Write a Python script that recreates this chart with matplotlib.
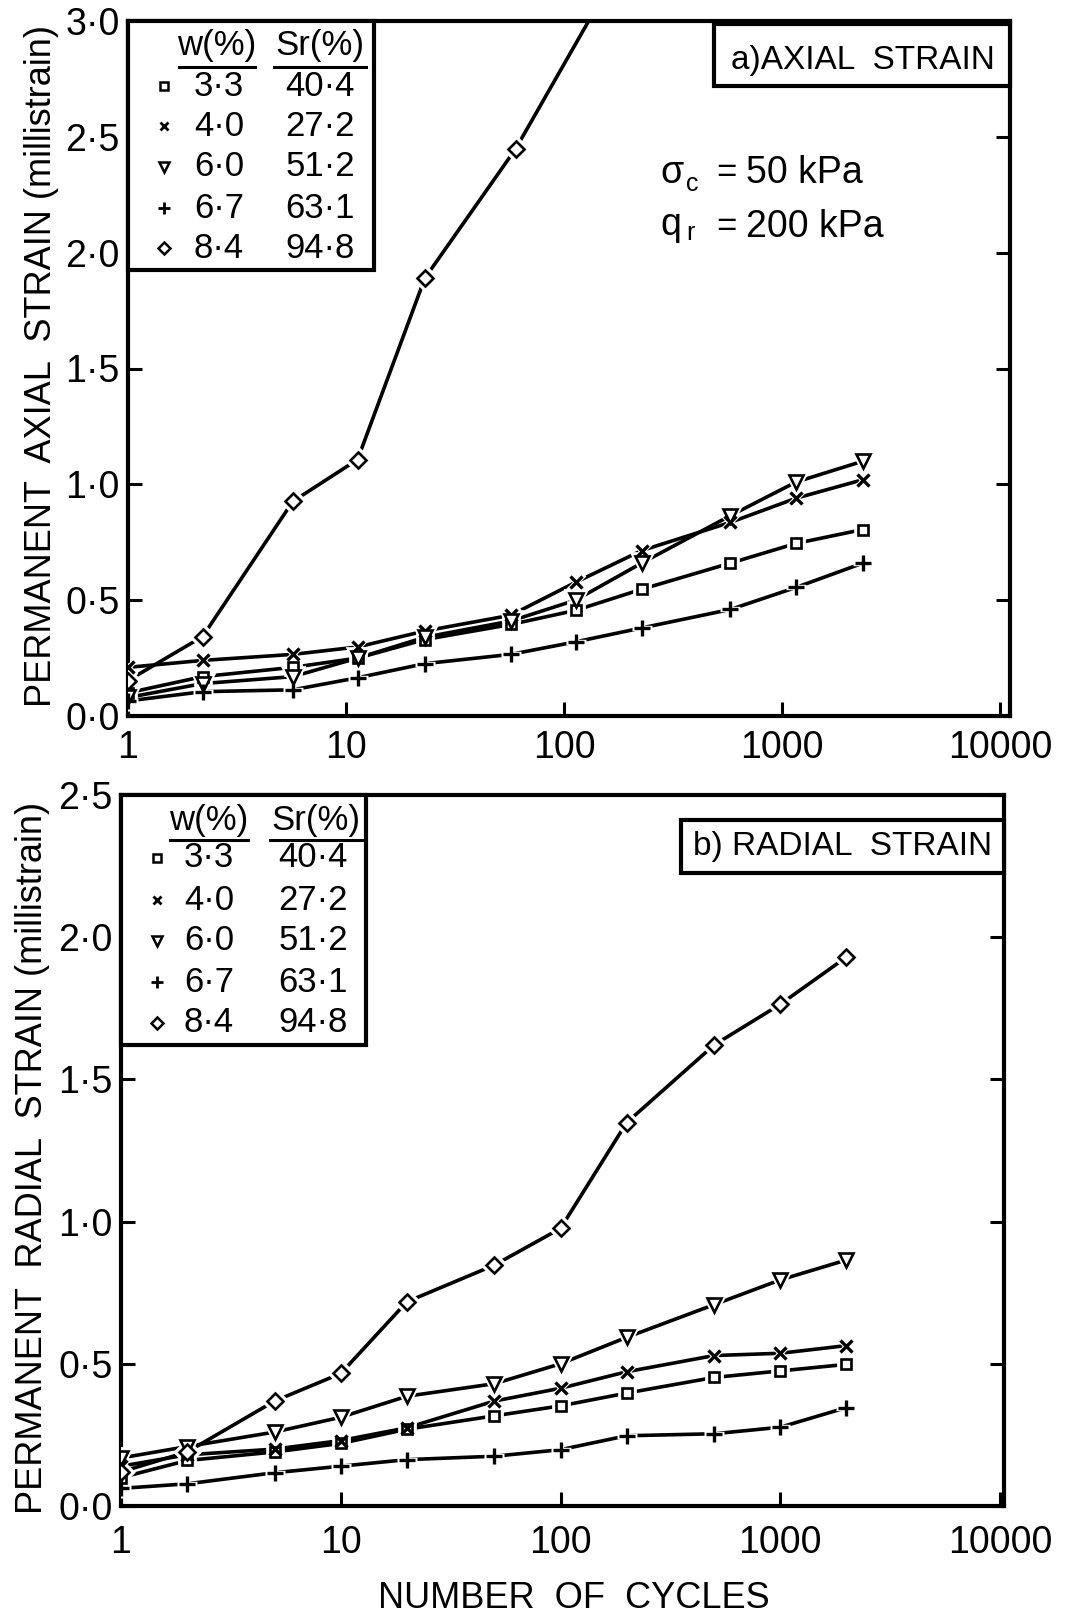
import matplotlib
matplotlib.use("Agg")
import matplotlib.pyplot as plt
from matplotlib import font_manager
from matplotlib.lines import Line2D
from matplotlib.patches import Rectangle
from matplotlib.ticker import FixedLocator, FixedFormatter, NullLocator


def pick_font(candidates):
    names = {f.name for f in font_manager.fontManager.ttflist}
    for c in candidates:
        if c in names:
            return c
    return "DejaVu Sans"


FONT = pick_font(["Liberation Sans Narrow", "DejaVu Sans Condensed", "Liberation Sans"])
plt.rcParams["font.family"] = [FONT, "DejaVu Sans"]

# ---------------- data ----------------
# (a) permanent axial strain (millistrain)
cycles_a = [1, 2.2, 5.7, 11.3, 23, 57, 113, 227, 580, 1160, 2350]
axial_w33 = [0.10, 0.17, 0.21, 0.25, 0.33, 0.395, 0.456, 0.547, 0.66, 0.745, 0.805]
axial_w40 = [0.21, 0.24, 0.266, 0.298, 0.367, 0.435, 0.577, 0.714, 0.836, 0.94, 1.02]
axial_w60 = [0.08, 0.14, 0.17, 0.25, 0.34, 0.41, 0.50, 0.66, 0.865, 1.01, 1.10]
axial_w67 = [0.065, 0.105, 0.113, 0.165, 0.226, 0.266, 0.32, 0.38, 0.46, 0.555, 0.66]
cycles_a_w84 = [1, 2.2, 5.7, 11.3, 23, 60, 227]
axial_w84 = [0.153, 0.343, 0.926, 1.107, 1.89, 2.448, 3.40]

# (b) permanent radial strain (millistrain)
cycles_b = [1, 2, 5, 10, 20, 50, 100, 200, 500, 1000, 2000]
radial_w33 = [0.10, 0.16, 0.19, 0.22, 0.27, 0.317, 0.352, 0.397, 0.452, 0.475, 0.498]
radial_w40 = [0.14, 0.18, 0.20, 0.23, 0.275, 0.369, 0.414, 0.472, 0.529, 0.537, 0.564]
radial_w60 = [0.169, 0.209, 0.26, 0.312, 0.386, 0.43, 0.50, 0.593, 0.708, 0.795, 0.865]
radial_w67 = [0.062, 0.078, 0.117, 0.14, 0.163, 0.175, 0.198, 0.247, 0.254, 0.277, 0.346]
radial_w84 = [0.12, 0.19, 0.369, 0.466, 0.718, 0.847, 0.976, 1.348, 1.621, 1.764, 1.93]

# legend table
legend_w = ["3·3", "4·0", "6·0", "6·7", "8·4"]
legend_sr = ["40·4", "27·2", "51·2", "63·1", "94·8"]

x_ticks = [1, 10, 100, 1000, 10000]
x_tick_labels = ["1", "10", "100", "1000", "10000"]
y_ticks_a = [0.0, 0.5, 1.0, 1.5, 2.0, 2.5, 3.0]
y_labels_a = ["0·0", "0·5", "1·0", "1·5", "2·0", "2·5", "3·0"]
y_ticks_b = [0.0, 0.5, 1.0, 1.5, 2.0, 2.5]
y_labels_b = ["0·0", "0·5", "1·0", "1·5", "2·0", "2·5"]

# ---------------- styles ----------------
STYLES = [
    dict(marker="s", ms=7.0, mew=1.9),
    dict(marker="x", ms=9.0, mew=2.4),
    dict(marker="v", ms=9.5, mew=1.9),
    dict(marker="+", ms=12.0, mew=2.4),
    dict(marker="D", ms=8.0, mew=1.9),
]
LEG_STYLES = [
    dict(marker="s", ms=5.5, mew=1.8),
    dict(marker="x", ms=6.0, mew=2.0),
    dict(marker="v", ms=7.0, mew=1.8),
    dict(marker="+", ms=9.0, mew=2.0),
    dict(marker="D", ms=6.5, mew=1.8),
]

W, H = 1068, 1618


def fx(px):
    return px / W


def fy(py):
    return 1 - py / H


fig = plt.figure(figsize=(W / 100, H / 100), dpi=100)
fig.patch.set_facecolor("white")

ax_a = fig.add_axes([fx(128), fy(716), (1010 - 128) / W, (716 - 21) / H])
ax_b = fig.add_axes([fx(121), fy(1506), (1004 - 121) / W, (1506 - 795) / H])


def draw_series(ax, x, y, style):
    ax.plot(x, y, color="black", lw=2.6, solid_capstyle="butt", zorder=2)
    ax.plot(x, y, ls="none", marker=style["marker"], ms=style["ms"] + 3,
            mfc="white", mec="white", mew=style["mew"] + 1.5, zorder=3)
    ax.plot(x, y, ls="none", marker=style["marker"], ms=style["ms"],
            mfc="white", mec="black", mew=style["mew"], zorder=4)


def style_axes(ax, ymax, yticks, ylabels, xmax, xpad):
    ax.set_xscale("log")
    ax.set_xlim(1, xmax)
    ax.set_ylim(0, ymax)
    ax.xaxis.set_major_locator(FixedLocator(x_ticks))
    ax.xaxis.set_major_formatter(FixedFormatter(x_tick_labels))
    ax.xaxis.set_minor_locator(NullLocator())
    ax.yaxis.set_major_locator(FixedLocator(yticks))
    ax.yaxis.set_major_formatter(FixedFormatter(ylabels))
    for sp in ax.spines.values():
        sp.set_linewidth(3.0)
    ax.tick_params(axis="both", which="major", direction="in", length=10,
                   width=2.2, labelsize=27, right=True, top=False)
    ax.tick_params(axis="x", pad=xpad)
    ax.tick_params(axis="y", pad=6)


# ---- panel (a) ----
for x, y, st in [
    (cycles_a, axial_w33, STYLES[0]),
    (cycles_a, axial_w40, STYLES[1]),
    (cycles_a, axial_w60, STYLES[2]),
    (cycles_a, axial_w67, STYLES[3]),
    (cycles_a_w84, axial_w84, STYLES[4]),
]:
    draw_series(ax_a, x, y, st)
style_axes(ax_a, 3.0, y_ticks_a, y_labels_a, 10 ** (4 * 882 / 872), 10)

# ---- panel (b) ----
for x, y, st in [
    (cycles_b, radial_w33, STYLES[0]),
    (cycles_b, radial_w40, STYLES[1]),
    (cycles_b, radial_w60, STYLES[2]),
    (cycles_b, radial_w67, STYLES[3]),
    (cycles_b, radial_w84, STYLES[4]),
]:
    draw_series(ax_b, x, y, st)
style_axes(ax_b, 2.5, y_ticks_b, y_labels_b, 10 ** (4 * 883 / 879), 14)


# ---- legend tables ----
def legend_table(left, top, right, bottom, head_y, line_y, w_span, sr_span,
                 rows_y, mx, wx, srx):
    fig.add_artist(Rectangle((fx(left), fy(bottom)), fx(right) - fx(left),
                             fy(top) - fy(bottom), transform=fig.transFigure,
                             facecolor="white", edgecolor="black", lw=3.0,
                             zorder=5))
    fig.text(fx((w_span[0] + w_span[1]) / 2), fy(head_y), "w(%)", ha="center",
             va="center", fontsize=25, zorder=6)
    fig.text(fx((sr_span[0] + sr_span[1]) / 2), fy(head_y), "Sr(%)",
             ha="center", va="center", fontsize=25, zorder=6)
    for span in (w_span, sr_span):
        fig.add_artist(Line2D([fx(span[0]), fx(span[1])], [fy(line_y)] * 2,
                              transform=fig.transFigure, color="black",
                              lw=2.2, zorder=6))
    for i, ry in enumerate(rows_y):
        st = LEG_STYLES[i]
        fig.add_artist(Line2D([fx(mx)], [fy(ry)], transform=fig.transFigure,
                              ls="none", marker=st["marker"], ms=st["ms"],
                              mew=st["mew"], mfc="white", mec="black",
                              zorder=6))
        fig.text(fx(wx), fy(ry), legend_w[i], ha="center", va="center",
                 fontsize=25, zorder=6)
        fig.text(fx(srx), fy(ry), legend_sr[i], ha="center", va="center",
                 fontsize=25, zorder=6)


legend_table(128, 21, 374, 270, 46, 67, (179, 255), (274, 366),
             [86, 126, 167, 208, 248], 164, 219, 320)
legend_table(121, 795, 366, 1045, 820, 840, (170, 248), (270, 362),
             [858, 900, 941, 982, 1023], 157, 209, 313)

# ---- panel titles ----
fig.add_artist(Rectangle((fx(714), fy(86)), fx(1010) - fx(714),
                         fy(24) - fy(86), transform=fig.transFigure,
                         facecolor="white", edgecolor="black", lw=3.0,
                         zorder=5))
fig.text(fx(863), fy(61), "a)AXIAL  STRAIN", ha="center", va="center",
         fontsize=24, zorder=6)

fig.add_artist(Rectangle((fx(681), fy(873)), fx(1004) - fx(681),
                         fy(820) - fy(873), transform=fig.transFigure,
                         facecolor="white", edgecolor="black", lw=3.0,
                         zorder=5))
fig.text(fx(843), fy(846), "b) RADIAL  STRAIN", ha="center", va="center",
         fontsize=24, zorder=6)

# ---- test conditions ----
fig.text(fx(660), fy(173), "σ", ha="left", va="center", fontsize=27)
fig.text(fx(686), fy(184), "c", ha="left", va="center", fontsize=18)
fig.text(fx(716), fy(173), "=", ha="left", va="center", fontsize=25)
fig.text(fx(746), fy(173), "50 kPa", ha="left", va="center", fontsize=27)
fig.text(fx(660), fy(225), "q", ha="left", va="center", fontsize=27)
fig.text(fx(686), fy(233), "r", ha="left", va="center", fontsize=18)
fig.text(fx(716), fy(227), "=", ha="left", va="center", fontsize=25)
fig.text(fx(746), fy(227), "200 kPa", ha="left", va="center", fontsize=27)

# ---- axis titles ----
fig.text(fx(42), fy(366), "PERMANENT  AXIAL  STRAIN (millistrain)",
         rotation=90, ha="center", va="center", fontsize=26)
fig.text(fx(33), fy(1158), "PERMANENT  RADIAL  STRAIN (millistrain)",
         rotation=90, ha="center", va="center", fontsize=26)
fig.text(fx(574), fy(1599), "NUMBER  OF  CYCLES", ha="center", va="center",
         fontsize=26)

fig.savefig("out.png", dpi=100, facecolor="white")
